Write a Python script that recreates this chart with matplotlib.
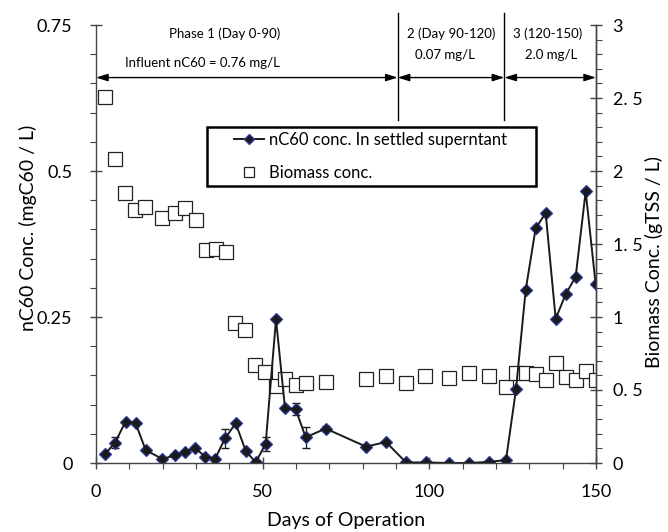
import numpy as np
import matplotlib
matplotlib.use('Agg')
import matplotlib.pyplot as plt
from matplotlib.lines import Line2D
from matplotlib.legend_handler import HandlerLine2D
from matplotlib.ticker import MultipleLocator

plt.rcParams['font.family'] = ['Lato', 'DejaVu Sans']

# nC60 in settled supernatant (mg/L)
days_c60 = [2.7, 5.7, 8.9, 11.9, 14.9, 19.9, 23.7, 26.7, 29.7, 32.7, 35.7, 38.7,
            41.9, 44.9, 47.9, 50.9, 54.0, 56.7, 59.9, 62.9, 68.9, 81, 87, 93,
            99, 105.8, 112, 118, 123, 126, 128.9, 131.9, 134.9, 137.9, 140.9,
            143.9, 146.9, 149.9]
c60 = [0.015, 0.035, 0.071, 0.068, 0.022, 0.007, 0.013, 0.018, 0.026, 0.011,
       0.007, 0.042, 0.068, 0.021, 0.001, 0.033, 0.246, 0.094, 0.092, 0.044,
       0.059, 0.028, 0.036, 0.001, 0.001, 0.0, 0.0, 0.002, 0.005, 0.126,
       0.296, 0.402, 0.428, 0.247, 0.289, 0.319, 0.465, 0.306]
c60_err = [0, 0.01, 0, 0, 0, 0, 0, 0, 0, 0,
           0, 0.016, 0, 0, 0, 0.012, 0, 0, 0.01, 0.018,
           0.005, 0, 0, 0, 0, 0, 0, 0, 0, 0,
           0, 0, 0, 0, 0, 0, 0, 0]

# biomass (gTSS/L)
days_bio = [2.7, 5.7, 8.7, 11.7, 14.7, 19.9, 23.7, 26.7, 29.9, 32.9, 35.9, 38.9,
            41.7, 44.7, 47.7, 50.7, 53.9, 56.7, 59.9, 62.9, 68.9, 80.9, 86.9,
            92.9, 98.7, 105.8, 112, 118, 123, 126, 129, 132, 135, 138, 141,
            144, 147, 150]
biomass = [2.505, 2.08, 1.85, 1.733, 1.756, 1.676, 1.71, 1.75, 1.664, 1.459,
           1.464, 1.447, 0.961, 0.911, 0.671, 0.625, 0.53, 0.575, 0.534, 0.546,
           0.557, 0.573, 0.596, 0.55, 0.596, 0.58, 0.618, 0.598, 0.523, 0.614,
           0.618, 0.61, 0.568, 0.683, 0.591, 0.568, 0.632, 0.568]

right_ticks = [0, 0.5, 1, 1.5, 2, 2.5, 3]
right_labels = ['0', '0. 5', '1', '1. 5', '2', '2. 5', '3']

fig = plt.figure(figsize=(6.68, 5.32), dpi=100)
ax = fig.add_axes([96/668, 69/532, 500/668, 438/532])
ax2 = ax.twinx()

ax2.plot(days_bio, biomass, 's', ms=9.5, mfc='white', mec='#222222', mew=0.9)
ax.errorbar(days_c60, c60, yerr=c60_err, fmt='-', color='#1a1a1a', lw=1.4,
            ecolor='#1a1a1a', elinewidth=0.9, capsize=3)
ax.plot(days_c60, c60, 'D', ms=6, mfc='#1a1a1a', mec='#2b3a9a', mew=0.9)
ax.set_zorder(ax2.get_zorder() + 1)
ax.patch.set_visible(False)

ax.set_xlim(0, 150)
ax.set_ylim(0, 0.75)
ax2.set_ylim(0, 3)
ax.set_xticks([0, 50, 100, 150])
ax.xaxis.set_minor_locator(MultipleLocator(10))
ax.set_yticks([0, 0.25, 0.5, 0.75])
ax.set_yticklabels(['0', '0.25', '0.5', '0.75'])
ax.yaxis.set_minor_locator(MultipleLocator(0.05))
ax2.set_yticks(right_ticks)
ax2.set_yticklabels(right_labels)
ax2.yaxis.set_minor_locator(MultipleLocator(0.1))

for a in (ax, ax2):
    a.spines['top'].set_visible(False)
    for s in a.spines.values():
        s.set_color('#444444')
        s.set_linewidth(1.0)
    a.tick_params(which='major', direction='inout', length=8, width=1,
                  color='#444444', labelsize=13)
    a.tick_params(which='minor', direction='out', length=4, width=0.8,
                  color='#444444')
ax2.spines['left'].set_visible(False)
ax2.spines['bottom'].set_visible(False)
ax.tick_params(axis='x', which='major', pad=11)
ax.tick_params(axis='y', which='major', pad=13)
ax2.tick_params(axis='y', which='major', pad=8)

ax.set_xlabel('Days of Operation', fontsize=14, labelpad=9)
ax.set_ylabel('nC60 Conc. (mgC60 / L)', fontsize=14)
ax.yaxis.set_label_coords(-0.118, 0.536)
ax2.set_ylabel('Biomass Conc. (gTSS / L)', fontsize=14)
ax2.yaxis.set_label_coords(1.098, 0.46)

# phase boundaries and arrows
arrow = dict(arrowstyle='<|-|>,head_length=0.7,head_width=0.22', color='black',
             lw=1, shrinkA=0, shrinkB=0)
for x0, x1 in [(0, 90.5), (90.5, 122.5), (122.5, 150)]:
    ax.annotate('', xy=(x0, 0.660), xytext=(x1, 0.660), arrowprops=arrow,
                annotation_clip=False)
for xb in [90.5, 122.5]:
    ax.plot([xb, xb], [0.587, 0.77], color='black', lw=1, clip_on=False)

ax.text(38.5, 0.735, 'Phase 1 (Day 0-90)', ha='center', va='center', fontsize=9.5)
ax.text(32, 0.685, 'Influent nC60 = 0.76 mg/L', ha='center', va='center', fontsize=9.5)
ax.text(106.6, 0.735, '2 (Day 90-120)', ha='center', va='center', fontsize=9.5)
ax.text(104.7, 0.699, '0.07 mg/L', ha='center', va='center', fontsize=9.5)
ax.text(135.4, 0.735, '3 (120-150)', ha='center', va='center', fontsize=9.5)
ax.text(136.5, 0.699, '2.0 mg/L', ha='center', va='center', fontsize=9.5)

handles = [Line2D([], [], color='#1a1a1a', lw=1.4, marker='D', ms=5,
                  mfc='#1a1a1a', mec='#2b3a9a'),
           Line2D([], [], ls='none', marker='s', ms=7.5, mfc='white', mec='#222222',
                  mew=0.9)]
leg = ax.legend(handles, ['nC60 conc. In settled superntant', 'Biomass conc.'],
                loc='upper left', bbox_to_anchor=(207/668, 1 - 127/532, 329/668, 0.0),
                bbox_transform=fig.transFigure, mode='expand', borderaxespad=0,
                fancybox=False, fontsize=12, handlelength=3.1, handletextpad=0.3,
                labelspacing=1.0, borderpad=0.3, framealpha=1,
                handler_map={Line2D: HandlerLine2D(xpad=1.3)})
leg.get_frame().set_edgecolor('black')
leg.get_frame().set_linewidth(1.8)

fig.savefig('out.png', dpi=100)
